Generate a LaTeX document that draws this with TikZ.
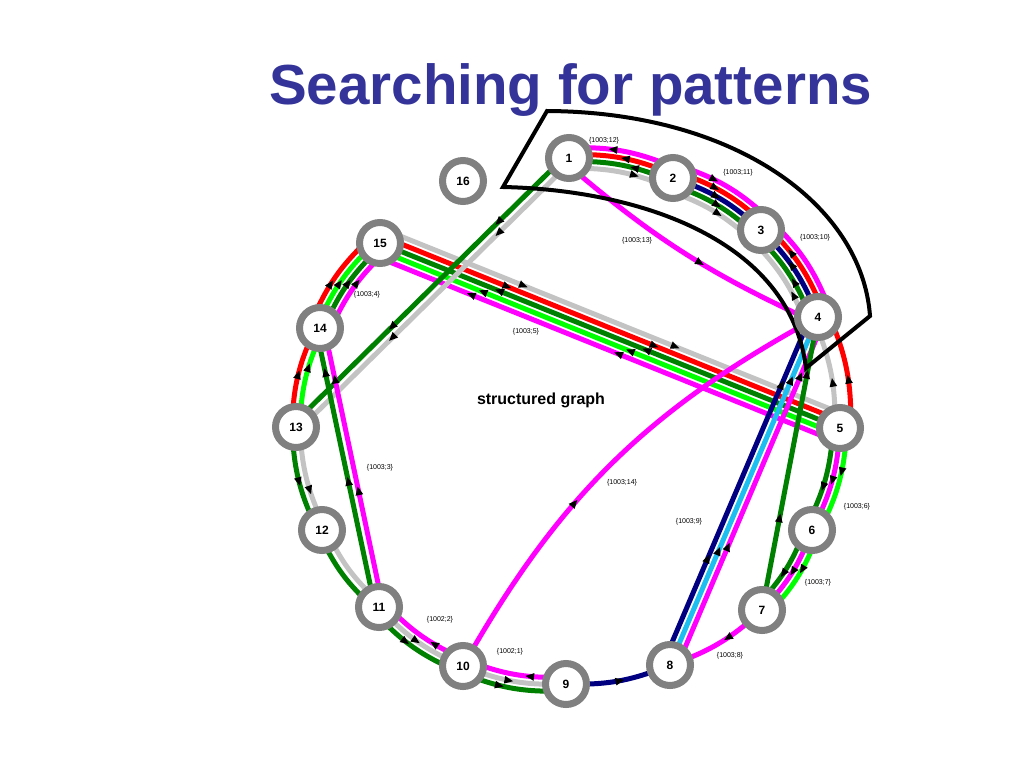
\documentclass[tikz,border=0pt]{standalone}
\usepackage{fontspec}
\setmainfont{Liberation Sans}
\usetikzlibrary{calc,backgrounds,decorations.markings,arrows.meta}

\definecolor{ringgray}{RGB}{128,128,128}
\definecolor{pgray}{RGB}{195,195,195}
\definecolor{pmag}{RGB}{255,0,255}
\definecolor{pred}{RGB}{255,0,0}
\definecolor{pgreen}{RGB}{0,128,0}
\definecolor{plime}{RGB}{0,255,0}
\definecolor{pnavy}{RGB}{0,0,128}
\definecolor{pcyan}{RGB}{30,190,240}
\definecolor{titleblue}{RGB}{51,51,153}

\tikzset{
  vertex/.style={circle, draw=ringgray, line width=7pt, fill=white, minimum size=41pt,
    inner sep=0pt, font=\bfseries\fontsize{12}{12}\selectfont},
  lbl/.style={font=\fontsize{7}{7}\selectfont, inner sep=0pt},
  ln/.style={line width=5pt},
  mg/.style={ln, draw=pmag}, rd/.style={ln, draw=pred}, gn/.style={ln, draw=pgreen},
  lg/.style={ln, draw=plime}, nv/.style={ln, draw=pnavy}, cy/.style={ln, draw=pcyan},
  gy/.style={ln, draw=pgray},
  fwd/.style={postaction={decorate, decoration={markings,
    mark=at position #1 with {\arrow{Triangle[length=9pt,width=7pt,black]}}}}},
  fwd/.default=0.5,
  bwd/.style={postaction={decorate, decoration={markings,
    mark=at position #1 with {\arrowreversed{Triangle[length=9pt,width=7pt,black]}}}}},
  bwd/.default=0.5,
  outline/.style={line width=4pt, draw=black},
}

% line from vertex #2 to vertex #3, shifted sideways by #4, bent by #5
\newcommand\ringline[5]{\draw[#1] ($(v#2.center)!#4!90:(v#3.center)$) to[bend left=#5] ($(v#3.center)!#4!-90:(v#2.center)$);}

\begin{document}
\begin{tikzpicture}[x=1pt,y=-1pt]
    \useasboundingbox (0,0) rectangle (1024,768);

    \node[anchor=base west, inner sep=0pt, text=titleblue, font=\bfseries\fontsize{56.5}{56.5}\selectfont] (title) at (269,104) {Searching for patterns};

    \node[vertex] (v1) at (569,158) {1};
    \node[vertex] (v2) at (673,178) {2};
    \node[vertex] (v3) at (761,230) {3};
    \node[vertex] (v4) at (818,317) {4};
    \node[vertex] (v5) at (840,428) {5};
    \node[vertex] (v6) at (812,530) {6};
    \node[vertex] (v7) at (762,610) {7};
    \node[vertex] (v8) at (670,665) {8};
    \node[vertex] (v9) at (566,684) {9};
    \node[vertex] (v10) at (463,666) {10};
    \node[vertex] (v11) at (379,607) {11};
    \node[vertex] (v12) at (322,530) {12};
    \node[vertex] (v13) at (296,427) {13};
    \node[vertex] (v14) at (320,328) {14};
    \node[vertex] (v15) at (380,243) {15};
    \node[vertex] (v16) at (463,181) {16};

    \node[font=\bfseries\fontsize{16}{16}\selectfont] (sg) at (541,400) {structured graph};

    \node[lbl] (l12) at (604,141) {\{1003;12\}};
    \node[lbl] (l11) at (738,173) {\{1003;11\}};
    \node[lbl] (l10) at (815,238) {\{1003;10\}};
    \node[lbl] (l13) at (637,241) {\{1003;13\}};
    \node[lbl] (l4) at (367,295) {\{1003;4\}};
    \node[lbl] (l5) at (526,332) {\{1003;5\}};
    \node[lbl] (l3) at (380,468) {\{1003;3\}};
    \node[lbl] (l14) at (622,483) {\{1003;14\}};
    \node[lbl] (l6) at (857,507) {\{1003;6\}};
    \node[lbl] (l9) at (689,522) {\{1003;9\}};
    \node[lbl] (l7) at (818,583) {\{1003;7\}};
    \node[lbl] (l8) at (730,656) {\{1003;8\}};
    \node[lbl] (k2) at (440,620) {\{1002;2\}};
    \node[lbl] (k1) at (510,652) {\{1002;1\}};

    \begin{scope}[on background layer]
    % round the ring
    \ringline{mg,bwd=.35}{1}{2}{10.5pt}{12}
    \ringline{rd,bwd=.48}{1}{2}{3.5pt}{12}
    \ringline{gn,bwd=.58}{1}{2}{-3.5pt}{12}
    \ringline{gy,fwd=.68}{1}{2}{-10.5pt}{12}
    \ringline{mg,fwd=.4}{2}{3}{14pt}{12}
    \ringline{rd,fwd=.45}{2}{3}{7pt}{12}
    \ringline{nv,fwd=.5}{2}{3}{0pt}{12}
    \ringline{gn,fwd=.55}{2}{3}{-7pt}{12}
    \ringline{gy,fwd=.6}{2}{3}{-14pt}{12}
    \ringline{mg}{3}{4}{14pt}{12}
    \ringline{rd,bwd=.3}{3}{4}{7pt}{12}
    \ringline{nv,bwd=.4}{3}{4}{0pt}{12}
    \ringline{gn,bwd=.55}{3}{4}{-7pt}{12}
    \ringline{gy,bwd=.65}{3}{4}{-14pt}{12}
    \ringline{rd,bwd=.55}{4}{5}{11pt}{12}
    \ringline{gy,bwd=.55}{4}{5}{-5pt}{12}
    \ringline{lg,fwd=.44}{5}{6}{7pt}{12}
    \ringline{mg,fwd=.54}{5}{6}{0pt}{12}
    \ringline{gn,fwd=.62}{5}{6}{-7pt}{12}
    \ringline{lg,fwd=.46}{6}{7}{7pt}{12}
    \ringline{mg,fwd=.53}{6}{7}{0pt}{12}
    \ringline{gn,fwd=.6}{6}{7}{-7pt}{12}
    \ringline{mg,fwd=.45}{7}{8}{0pt}{12}
    \ringline{nv,bwd=.45}{8}{9}{0pt}{12}
    \ringline{gn,bwd=.58}{9}{10}{7pt}{12}
    \ringline{gy,bwd=.5}{9}{10}{0pt}{12}
    \ringline{mg,fwd=.4}{9}{10}{-7pt}{12}
    \ringline{gn,bwd=.55}{10}{11}{7pt}{12}
    \ringline{gy,bwd=.47}{10}{11}{0pt}{12}
    \ringline{mg,fwd=.4}{10}{11}{-7pt}{12}
    \ringline{gn}{11}{12}{4pt}{12}
    \ringline{gy}{11}{12}{-4pt}{12}
    \ringline{gn,bwd=.45}{12}{13}{4pt}{12}
    \ringline{gy,bwd=.35}{12}{13}{-4pt}{12}
    \ringline{rd,fwd=.55}{13}{14}{4pt}{12}
    \ringline{lg,fwd=.64}{13}{14}{-4pt}{12}
    \ringline{rd,fwd=.45}{14}{15}{10.5pt}{12}
    \ringline{lg,fwd=.5}{14}{15}{3.5pt}{12}
    \ringline{gn,fwd=.55}{14}{15}{-3.5pt}{12}
    \ringline{mg,fwd=.6}{14}{15}{-10.5pt}{12}
    % chords
    \ringline{gy,fwd=.31,fwd=.64}{15}{5}{14pt}{0}
    \ringline{rd,fwd=.28,fwd=.6}{15}{5}{7pt}{0}
    \ringline{gn,bwd=.25,bwd=.57}{15}{5}{0pt}{0}
    \ringline{lg,bwd=.22,bwd=.54}{15}{5}{-7pt}{0}
    \ringline{mg,bwd=.2,bwd=.52}{15}{5}{-14pt}{0}
    \ringline{gn,bwd=.35,bwd=.74}{13}{1}{4pt}{0}
    \ringline{gy,bwd=.33,bwd=.72}{13}{1}{-4pt}{0}
    \ringline{mg,bwd=.17,bwd=.57}{14}{11}{4pt}{0}
    \ringline{gn,bwd=.14,bwd=.53}{14}{11}{-4pt}{0}
    \ringline{mg,fwd=.58}{1}{4}{-6pt}{-8}
    \ringline{mg,bwd=.6}{4}{10}{0pt}{-16}
    \ringline{mg,bwd=.15,bwd=.64}{4}{8}{7pt}{0}
    \ringline{cy,bwd=.17,bwd=.66}{4}{8}{0pt}{0}
    \ringline{nv,bwd=.19,bwd=.69}{4}{8}{-7pt}{0}
    \ringline{gn,bwd=.18,bwd=.67}{4}{7}{0pt}{0}
    % the pattern
    \draw[outline] (547,111) -- (503,187) .. controls (640,190) and (790,240) .. (806,368)
        -- (870,316) .. controls (862,205) and (735,112) .. cycle;
    \end{scope}
\end{tikzpicture}
\end{document}
